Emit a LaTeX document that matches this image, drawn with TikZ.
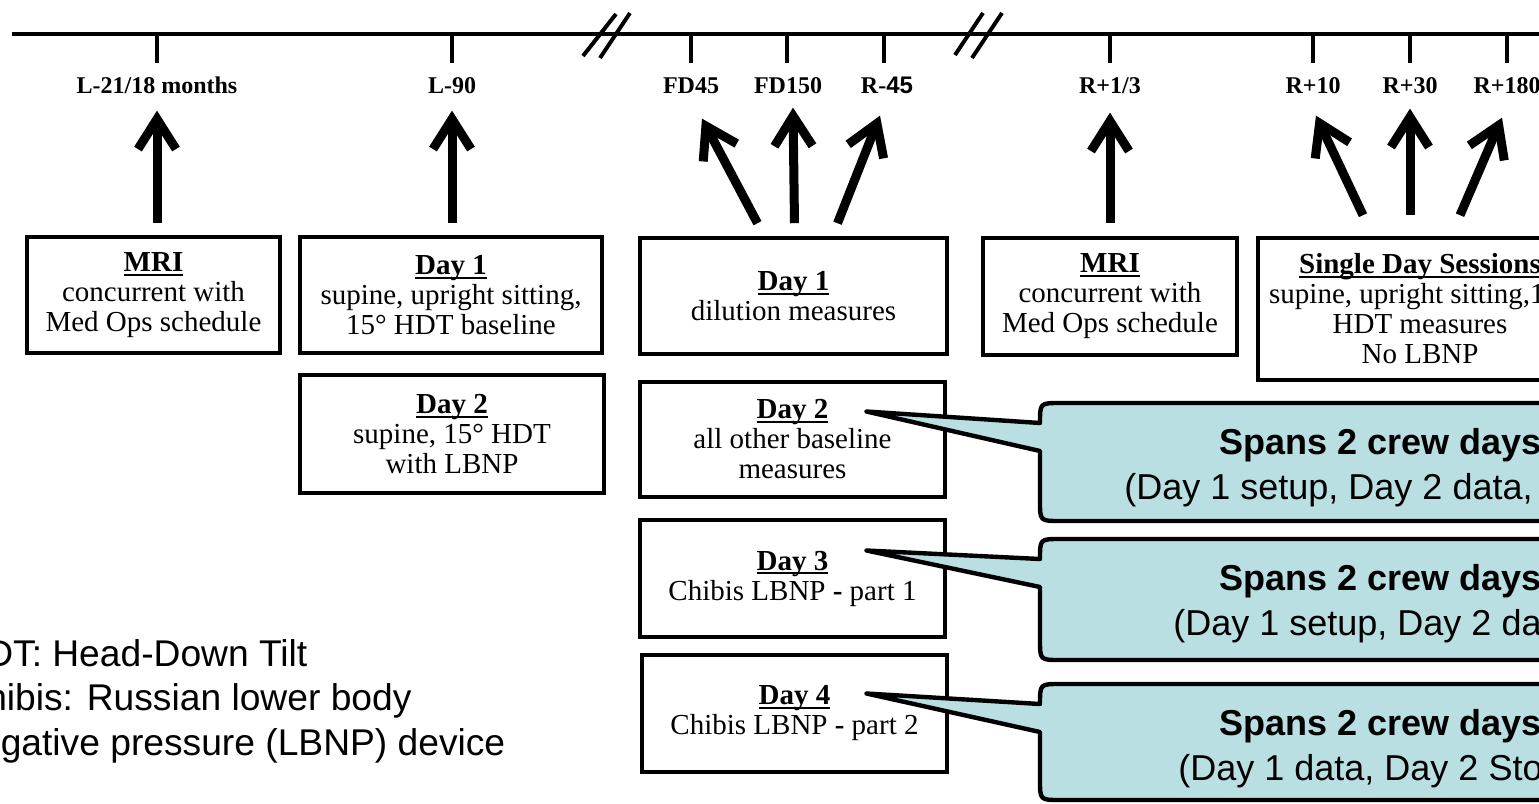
\documentclass[tikz,border=0pt]{standalone}
\usepackage{fontspec}
\setmainfont{Liberation Serif}
\setsansfont{Liberation Sans}
\usepackage{tikz}
\usetikzlibrary{arrows.meta, calc}
\definecolor{calloutblue}{RGB}{185,223,227}
\newsavebox{\headbox}
\newcommand{\boxhead}[1]{\sbox{\headbox}{\textbf{#1}}\rlap{\rule[-2.2pt]{\wd\headbox}{1pt}}\usebox{\headbox}}

\begin{document}
\begin{tikzpicture}[
    x=0.5pt, y=-0.5pt,
    axis/.style={line width=2pt},
    tick/.style={line width=2.2pt},
    tlabel/.style={font=\fontsize{12pt}{14pt}\selectfont\bfseries, inner sep=0pt, anchor=base},
    daybox/.style={draw, line width=1.8pt, align=center, inner sep=0pt, font=\fontsize{14.5pt}{15pt}\selectfont},
    bigarrow/.style={line width=4.5pt, -{Straight Barb[length=15pt, width=19pt]}},
    callout/.style={draw, fill=calloutblue, line width=2.2pt, line join=round},
    callouttext/.style={font=\sffamily\fontsize{18pt}{22pt}\selectfont, inner sep=0pt, anchor=base west},
    calloutbold/.style={callouttext, font=\sffamily\bfseries\fontsize{18pt}{22pt}\selectfont},
  ]
  \useasboundingbox (0,0) rectangle (1539,804);
  \clip (0,0) rectangle (1539,804);
  \fill[white] (0,0) rectangle (1539,804);

  % timeline with ticks and breaks
  \draw[axis] (12,34) -- (1580,34);
  \foreach \x/\n in {157/t1, 452/t2, 691/t3, 787/t4, 884/t5, 1110/t6, 1313/t7, 1410/t8, 1507/t9}
    \draw[tick] (\x,34) coordinate (\n) -- ++(0,29);
  \draw[axis] (583,56) -- (616,14) (600,58) -- (630,13);
  \draw[axis] (955,55) -- (983,13) (972,58) -- (1002,13);

  % time point labels
  \node[tlabel] (l21) at (157,93) {L-21/18 months};
  \node[tlabel] (l90) at (452,93) {L-90};
  \node[tlabel] (fd45) at (691,93) {FD45};
  \node[tlabel] (fd150) at (788,93) {FD150};
  \node[tlabel] (rm45) at (887,93) {R-\textsf{45}};
  \node[tlabel] (rp13) at (1110,93) {R+1/3};
  \node[tlabel] (rp10) at (1313,93) {R+10};
  \node[tlabel] (rp30) at (1410,93) {R+30};
  \node[tlabel] (rp180) at (1507,93) {R+180};

  % session boxes
  \node[daybox, minimum width=126.5pt, minimum height=58pt] (mri1) at (153.5,295)
    {\boxhead{MRI}\\concurrent with\\Med Ops schedule};
  \node[daybox, minimum width=151pt, minimum height=58pt] (pre1) at (451,295)
    {\boxhead{Day 1}\\supine, upright sitting,\\15° HDT baseline};
  \node[daybox, minimum width=152pt, minimum height=59pt] (pre2) at (452,434)
    {\boxhead{Day 2}\\supine, 15° HDT\\with LBNP};
  \node[daybox, minimum width=153.5pt, minimum height=58pt] (fl1) at (793.5,296)
    {\boxhead{Day 1}\\dilution measures};
  \node[daybox, minimum width=152.5pt, minimum height=57.5pt] (fl2) at (792.5,439.5)
    {\boxhead{Day 2}\\all other baseline\\measures};
  \node[daybox, minimum width=152.5pt, minimum height=58.5pt] (fl3) at (792.5,578.5)
    {\boxhead{Day 3}\\Chibis LBNP \textbf{-} part 1};
  \node[daybox, minimum width=152.5pt, minimum height=58.5pt] (fl4) at (794.5,713.5)
    {\boxhead{Day 4}\\Chibis LBNP \textbf{-} part 2};
  \node[daybox, minimum width=127pt, minimum height=58.5pt] (mri2) at (1110,296.5)
    {\boxhead{MRI}\\concurrent with\\Med Ops schedule};
  \node[daybox, minimum width=162pt, minimum height=71pt] (single) at (1420,309)
    {\boxhead{Single Day Sessions}\\supine, upright sitting,15°\\HDT measures\\No LBNP};

  % arrows up to the time points
  \draw[bigarrow] ($(l21 |- mri1.north)+(0,-12)$) -- ($(l21.south)+(0,17)$);
  \draw[bigarrow] ($(l90 |- pre1.north)+(0,-12)$) -- ($(l90.south)+(0,17)$);
  \draw[bigarrow] ($(fl1.north)+(-36,-13)$) -- ($(fd45.south)+(11,25)$);
  \draw[bigarrow] ($(fl1.north)+(1,-13)$) -- ($(fd150.south)+(5,14)$);
  \draw[bigarrow] ($(fl1.north)+(44,-13)$) -- ($(rm45.south)+(-7,22)$);
  \draw[bigarrow] ($(rp13 |- mri2.north)+(0,-13)$) -- ($(rp13.south)+(0,19)$);
  \draw[bigarrow] ($(single.north)+(-57,-21)$) -- ($(rp10.south)+(3,22)$);
  \draw[bigarrow] ($(single.north)+(-10,-21)$) -- ($(rp30.south)+(0,15)$);
  \draw[bigarrow] ($(single.north)+(40,-21)$) -- ($(rp180.south)+(-5,24)$);

  % callouts
  \coordinate (tipA) at ($(fl2.center)+(74,-28)$);
  \coordinate (tipB) at ($(fl3.center)+(74,-28)$);
  \coordinate (tipC) at ($(fl4.center)+(72,-20)$);
  \foreach \n/\t/\b in {A/403/521, B/539/660, C/684/800}
    \draw[callout] (tip\n) -- (1040,\t+20) .. controls (1040,\t) .. (1060,\t) -- (1580,\t)
      -- (1580,\b) -- (1060,\b) .. controls (1040,\b) .. (1040,\b-20) -- (1040,\t+48) -- cycle;
  \node[calloutbold] (spanA) at (1219,454) {Spans 2 crew days};
  \node[callouttext] (subA) at (1124,499) {(Day 1 setup, Day 2 data,};
  \node[calloutbold] (spanB) at (1219,590) {Spans 2 crew days};
  \node[callouttext] (subB) at (1173,635) {(Day 1 setup, Day 2 da};
  \node[calloutbold] (spanC) at (1219,735) {Spans 2 crew days};
  \node[callouttext] (subC) at (1178,780) {(Day 1 data, Day 2 Sto};

  % legend
  \node[anchor=west, align=left, inner sep=0pt, font=\sffamily\fontsize{18.6pt}{22.3pt}\selectfont] (legend) at (-41,701)
    {HDT: Head-Down Tilt\\Chibis: Russian lower body\\negative pressure (LBNP) device};
\end{tikzpicture}
\end{document}
